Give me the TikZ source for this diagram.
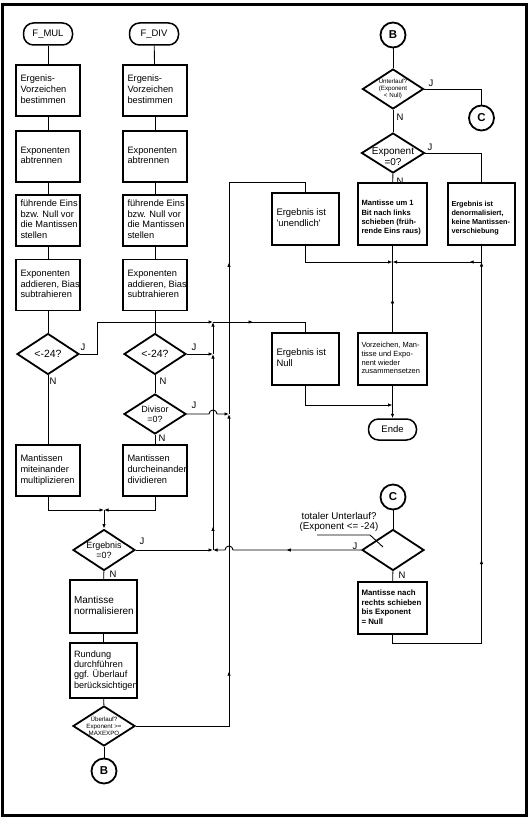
\documentclass[tikz,border=0pt]{standalone}
\usepackage{fontspec}
\setmainfont{Liberation Sans}
\usetikzlibrary{shapes.geometric, arrows.meta, decorations.markings}
\newcommand{\bxt}[2]{\makebox[#1][l]{\begin{tabular}{@{}l@{}}#2\end{tabular}}}
\newcommand{\dgfont}{\fontsize{10.5}{11}\selectfont}
\newcommand{\dmfont}{\fontsize{9}{10.3}\selectfont}
\newcommand{\tnfont}{\fontsize{6.2}{7}\selectfont}
\begin{document}
\begin{tikzpicture}[x=1bp, y=-1bp,
  pbox/.style={draw, line width=1.8bp, inner sep=0pt, font=\fontsize{9.3}{10.7}\selectfont},
  bsq/.style={minimum width=64bp, minimum height=51bp},
  dia/.style={draw, diamond, line width=1.8bp, inner sep=0pt, minimum width=62bp, minimum height=41bp},
  dlab/.style={align=center, inner sep=0pt},
  term/.style={draw, rectangle, rounded corners=10bp, line width=1.5bp, minimum width=49bp, minimum height=22bp, inner sep=0pt, font=\fontsize{9.5}{11}\selectfont},
  circ/.style={draw, circle, line width=1.8bp, minimum size=25bp, inner sep=0pt, font=\bfseries\fontsize{11.5}{13}\selectfont},
  conn/.style={line width=0.9bp},
  arrowend/.style={-{Latex[length=4.5bp,width=3.5bp]}},
  midarr/.style={postaction={decorate}, decoration={markings, mark=at position #1 with {\arrow{Latex[length=4.5bp,width=3.5bp]}}}},
  lab/.style={font=\fontsize{9.5}{11}\selectfont, inner sep=0pt}
]
\useasboundingbox (0,0) rectangle (530,818);
\draw[line width=3bp] (2.5,5) rectangle (526.5,815);

% left column
\node[term] (fmul) at (48,34) {F\_MUL};
\node[pbox,bsq] (m1) at (48,90.5) {\bxt{55bp}{Ergenis-\\Vorzeichen\\bestimmen}};
\node[pbox,bsq] (m2) at (48,156.5) {\bxt{55bp}{Exponenten\\abtrennen}};
\node[pbox,bsq] (m3) at (48,220.5) {\bxt{55bp}{führende Eins\\bzw. Null vor\\die Mantissen\\stellen}};
\node[pbox,bsq] (m4) at (48,285) {\bxt{55bp}{Exponenten\\addieren, Bias\\subtrahieren}};
\node[dia, label={[dlab,font=\dgfont]center:{<-24?}}] (md) at (48,354) {};
\node[pbox,bsq] (m5) at (48,470.5) {\bxt{55bp}{Mantissen\\miteinander\\multiplizieren}};

% second column
\node[term] (fdiv) at (154,34) {F\_DIV};
\node[pbox,bsq] (v1) at (155,90.5) {\bxt{55bp}{Ergenis-\\Vorzeichen\\bestimmen}};
\node[pbox,bsq] (v2) at (155,156.5) {\bxt{55bp}{Exponenten\\abtrennen}};
\node[pbox,bsq] (v3) at (155,220.5) {\bxt{55bp}{führende Eins\\bzw. Null vor\\die Mantissen\\stellen}};
\node[pbox,bsq] (v4) at (155,285) {\bxt{55bp}{Exponenten\\addieren, Bias\\subtrahieren}};
\node[dia, label={[dlab,font=\dgfont]center:{<-24?}}] (vd) at (155,354) {};
\node[dia, minimum height=40bp, label={[dlab,font=\dmfont]center:{Divisor\\=0?}}] (dv) at (155,414) {};
\node[pbox,bsq] (v5) at (155,470.5) {\bxt{55bp}{Mantissen\\durcheinander\\dividieren}};

% merged column
\coordinate (mm) at (104,510);
\node[dia, label={[dlab,font=\dmfont]center:{Ergebnis\\=0?}}] (ed) at (104,550) {};
\node[pbox, minimum width=67bp, minimum height=53bp, font=\fontsize{10}{11.3}\selectfont] (n1) at (103.5,606.5) {\bxt{59bp}{Mantisse\\normalisieren}};
\node[pbox, minimum width=67bp, minimum height=55bp, font=\fontsize{9.2}{10.2}\selectfont] (n2) at (103.5,670.5) {\bxt{59bp}{Rundung\\durchführen\\ggf. Überlauf\\berücksichtigen}};
\node[dia, minimum height=40bp, label={[dlab,font=\tnfont]center:{Überlauf?\\Exponent >=\\MAXEXPO}}] (od) at (104,726) {};
\node[circ] (cb) at (104,771) {B};

% right part
\node[circ] (ct) at (393,35) {B};
\node[dia, minimum width=61bp, minimum height=40bp, label={[dlab,font=\tnfont]center:{Unterlauf?\\(Exponent\\< Null)}}] (ud) at (393,89) {};
\node[circ] (cc1) at (481.5,118) {C};
\node[dia, minimum width=63bp, minimum height=40bp, label={[dlab,font=\fontsize{10}{10.5}\selectfont,yshift=-3.5bp]center:{Exponent\\=0?}}] (e0) at (393,153) {};
\node[pbox, minimum width=67bp, minimum height=52bp, font=\fontsize{9.5}{11.3}\selectfont] (ue) at (305.5,219) {\bxt{58bp}{Ergebnis ist\\\textquotesingle unendlich\textquotesingle}};
\node[pbox, minimum width=69bp, minimum height=62bp, label={[font=\bfseries\fontsize{7.6}{9.3}\selectfont, inner sep=0pt, yshift=-4bp]center:{\bxt{62bp}{Mantisse um 1\\Bit nach links\\schieben (früh-\\rende Eins raus)}}}] (ml) at (392.5,214) {};
\node[pbox, minimum width=67bp, minimum height=62bp, label={[font=\bfseries\fontsize{7.3}{9.1}\selectfont, inner sep=0pt, yshift=-4bp]center:{\bxt{60bp}{Ergebnis ist\\denormalisiert,\\keine Mantissen-\\verschiebung}}}] (dn) at (481.5,214) {};
\node[pbox, minimum width=67bp, minimum height=52bp, font=\fontsize{9.5}{11}\selectfont] (nu) at (305.5,359) {\bxt{58bp}{Ergebnis ist\\Null}};
\node[pbox, minimum width=69bp, minimum height=52bp, font=\fontsize{7.5}{8.8}\selectfont] (vzb) at (392.5,359) {\bxt{62bp}{Vorzeichen, Man-\\tisse und Expo-\\nent wieder\\zusammensetzen}};
\node[term, minimum width=48bp, minimum height=21bp] (ende) at (392.5,429.5) {Ende};
\node[circ] (cc2) at (393,497) {C};
\node[dia] (td) at (393,550) {};
\node[font=\fontsize{9.8}{10.5}\selectfont, align=center, inner sep=0pt] (tl) at (339,522) {totaler Unterlauf?\\(Exponent <= -24)};
\node[pbox, minimum width=69bp, minimum height=52bp, font=\bfseries\fontsize{7.9}{9.8}\selectfont] (mr) at (392.5,608) {\bxt{62bp}{Mantisse nach\\rechts schieben\\bis Exponent\\= Null}};

% J / N labels
\node[lab] (lj1) at (83,347) {J};
\node[lab] (ln1) at (53,381) {N};
\node[lab] (lj2) at (194,347) {J};
\node[lab] (ln2) at (163,381) {N};
\node[lab] (lj3) at (194,405) {J};
\node[lab] (ln3) at (162,438) {N};
\node[lab] (lj4) at (142,541) {J};
\node[lab] (ln4) at (113,574) {N};
\node[lab] (lj5) at (431,83) {J};
\node[lab] (ln5) at (400,117) {N};
\node[lab] (lj6) at (430,147) {J};
\node[lab] (ln6) at (400,181) {N};
\node[lab] (lj7) at (355,546) {J};
\node[lab] (ln7) at (402,575) {N};

% coordinates
\coordinate (lk) at (97,354);
\coordinate (ja) at (213,322);
\coordinate (jb) at (213,354);
\coordinate (jc) at (213,550);
\coordinate (ka) at (229,182);
\coordinate (kb) at (229,414);
\coordinate (kc) at (229,726);
\coordinate (hopL) at (209,414);
\coordinate (hopR) at (233,550);
\coordinate (q) at (392.5,262);
\coordinate (qr) at (481.5,262);
\coordinate (rr) at (392.5,405);
\coordinate (la) at (317,535);
\coordinate (lb) at (370,535);
\coordinate (lc) at (383,547);

% left connectors
\draw[conn] (fmul) -- (m1);
\draw[conn] (m1) -- (m2);
\draw[conn] (m2) -- (m3);
\draw[conn] (m3) -- (m4);
\draw[conn] (m4) -- (md);
\draw[conn] (md) -- (m5);
\draw[conn] (fdiv) -- (v1);
\draw[conn] (v1) -- (v2);
\draw[conn] (v2) -- (v3);
\draw[conn] (v3) -- (v4);
\draw[conn] (v4) -- (vd);
\draw[conn] (vd) -- (dv);
\draw[conn] (dv) -- (v5);
\draw[conn, arrowend] (m5.south) |- (mm);
\draw[conn, arrowend] (v5.south) |- (mm);
\draw[conn, arrowend] (mm) -- (ed.north);
\draw[conn] (ed) -- (n1);
\draw[conn] (n1) -- (n2);
\draw[conn] (n2) -- (od);
\draw[conn] (od) -- (cb);

% J routes
\draw[conn, arrowend] (md.east) -- (lk) |- (ja);
\draw[conn, arrowend] (vd.east) -- (jb);
\draw[conn, arrowend] (jb) -- (ja);
\draw[conn, arrowend, midarr=0.12] (jc) -- (jb);
\draw[conn, arrowend] (ed.east) -- (jc);
\draw[conn, arrowend, midarr=0.49] (td.west) -- (hopR) arc (0:-180:4) -- (jc);
\draw[conn, midarr=0.39] (ja) -| (nu.north);
\draw[conn, arrowend, midarr=0.365] (od.east) -- (kc) -- (kb);
\draw[conn, arrowend] (dv.east) -- (hopL) arc (180:360:4) -- (kb);
\draw[conn, midarr=0.476] (kb) -- (ka) -| (ue.north);

% right connectors
\draw[conn] (ct) -- (ud);
\draw[conn] (ud.east) -| (cc1.north);
\draw[conn] (ud) -- (e0);
\draw[conn] (e0.east) -| (dn.north);
\draw[conn] (e0) -- (ml);
\draw[conn, arrowend] (ue.south) |- (q);
\draw[conn, arrowend, midarr=0.27] (dn.south) |- (q);
\draw[conn, midarr=0.7] (ml) -- (vzb);
\draw[conn, arrowend] (nu.south) |- (rr);
\draw[conn, arrowend] (vzb.south) -- (ende.north);
\draw[conn] (cc2) -- (td);
\draw[conn] (td) -- (mr);
\draw[conn, arrowend, midarr=0.38] (mr.south) -- ++(0,9) -| (qr);
\draw[conn] (la) -- (lb) -- (lc);
\end{tikzpicture}
\end{document}
